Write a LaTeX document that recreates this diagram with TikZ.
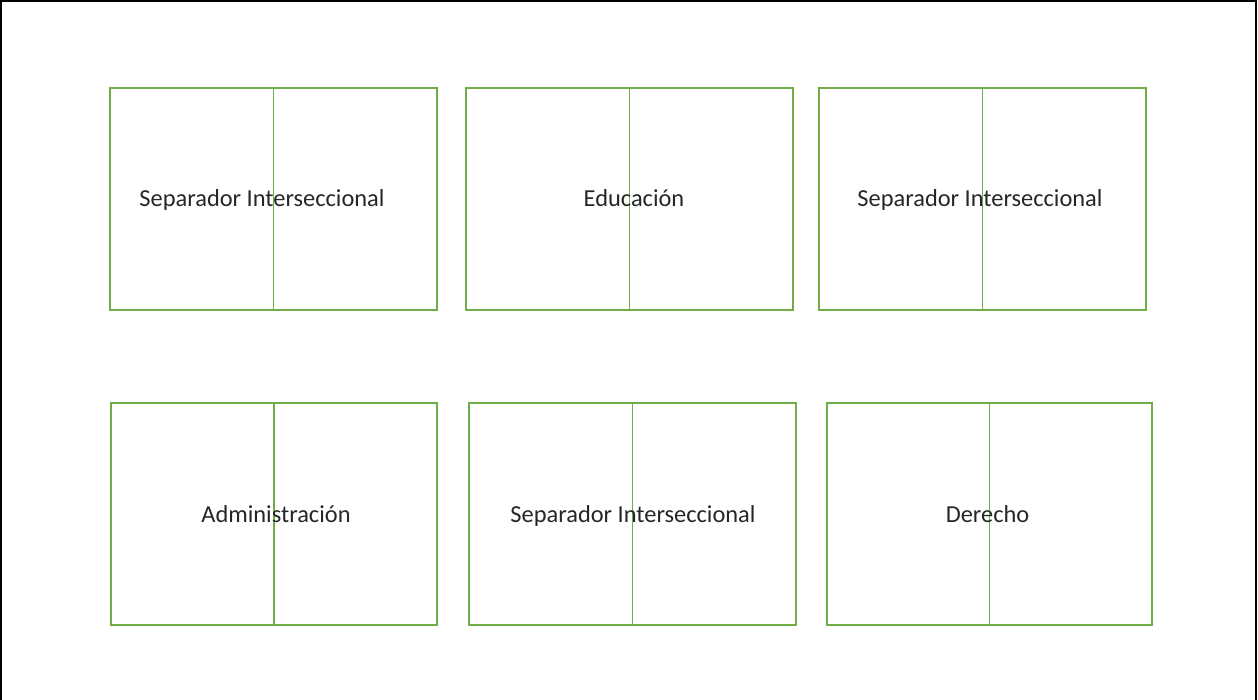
\documentclass[tikz,border=0pt]{standalone}
\usepackage{fontspec}
\setmainfont{Carlito}
\usetikzlibrary{calc}

\definecolor{boxgreen}{RGB}{112,173,71}

\begin{document}
\begin{tikzpicture}[x=0.75pt, y=-0.75pt,
            every node/.style={inner sep=0pt},
            seat/.style={draw=boxgreen, line width=0.9pt, minimum width=245.25pt, minimum height=166.5pt},
            split/.style={draw=boxgreen, line width=0.9pt},
            seattext/.style={anchor=base, font=\fontsize{18.3}{22}\selectfont, text=black!85}]
        \useasboundingbox (0,0) rectangle (1258,700);
        \draw[line width=1.5pt] (1,700) -- (1,1) -- (1256,1) -- (1256,700);
        % upper row
        \node[seat] (s1) at (273.5,199) {};
        \node[seat] (s2) at (629.5,199) {};
        \node[seat] (s3) at (982.5,199) {};
        % lower row
        \node[seat, minimum width=244.5pt] (s4) at (274,514) {};
        \node[seat] (s5) at (632.5,514) {};
        \node[seat, minimum width=243.75pt] (s6) at (989.5,514) {};
        \foreach \s in {s1,s2,s3,s4,s5,s6}
            \draw[split] (\s.north) -- (\s.south);
        \node[seattext] (t1) at (262,206.5) {Separador Interseccional};
        \node[seattext] (t2) at (634,206.5) {Educación};
        \node[seattext] (t3) at (980,206.5) {Separador Interseccional};
        \node[seattext] (t4) at (276,522) {Administración};
        \node[seattext] (t5) at (633,522) {Separador Interseccional};
        \node[seattext] (t6) at (987.5,522) {Derecho};
\end{tikzpicture}
\end{document}
